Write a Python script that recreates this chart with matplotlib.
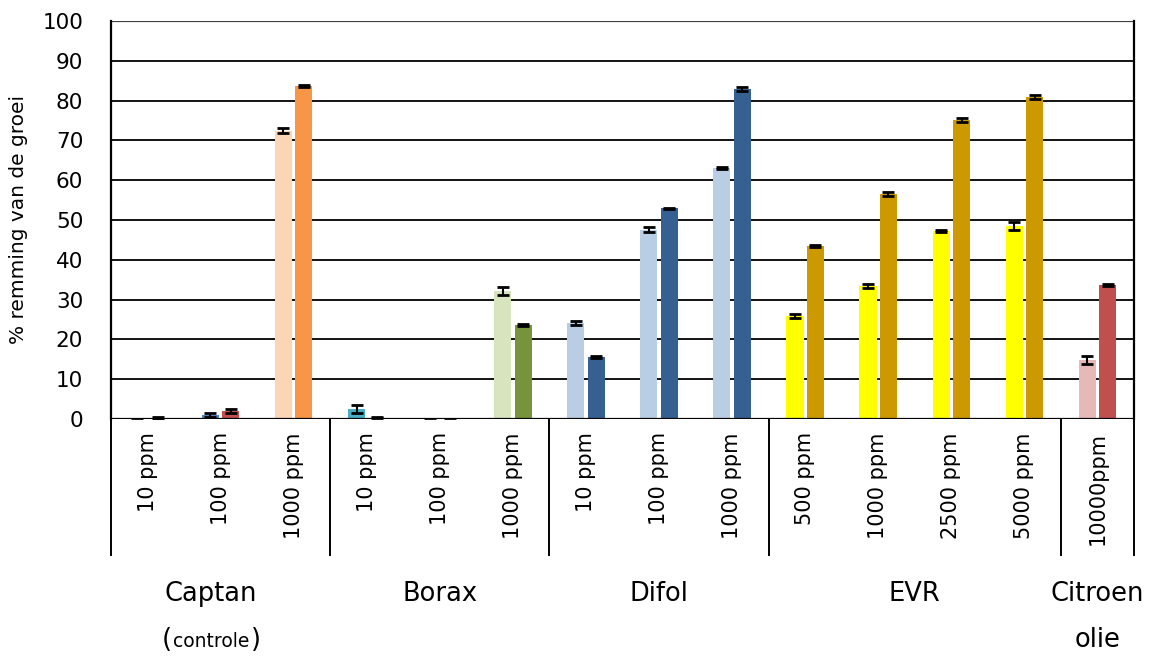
import matplotlib
matplotlib.use("Agg")
import matplotlib.pyplot as plt
from matplotlib.offsetbox import TextArea, HPacker, AnnotationBbox
import numpy as np

# Treatments (concentration labels) grouped by product
groups = ["Captan", "Borax", "Difol", "EVR", "Citroen\nolie"]
group_sizes = [3, 3, 3, 4, 1]
doses = ["10 ppm", "100 ppm", "1000 ppm",
         "10 ppm", "100 ppm", "1000 ppm",
         "10 ppm", "100 ppm", "1000 ppm",
         "500 ppm", "1000 ppm", "2500 ppm", "5000 ppm",
         "10000ppm"]

# Growth inhibition (%) for the two series per treatment
inhib_a = [-0.3, 1.0, 72.4, 2.5, -0.3, 32.2, 24.2, 47.6, 63.0, 25.9, 33.4, 47.2, 48.5, 14.8]
inhib_b = [0.3, 2.0, 83.6, 0.3, -0.3, 23.6, 15.6, 52.9, 82.9, 43.5, 56.5, 75.1, 81.0, 33.6]
err_a = [0.1, 0.5, 0.6, 0.9, 0.1, 1.0, 0.5, 0.6, 0.2, 0.6, 0.6, 0.3, 1.0, 1.0]
err_b = [0.2, 0.4, 0.2, 0.1, 0.1, 0.3, 0.2, 0.2, 0.5, 0.2, 0.5, 0.5, 0.5, 0.3]

colors_a = ["#4F81BD", "#4F81BD", "#FCD5B5", "#4BACC6", "#4F81BD", "#D7E4BD",
            "#B9CDE5", "#B9CDE5", "#B9CDE5", "#FFFF00", "#FFFF00", "#FFFF00", "#FFFF00",
            "#E6B9B8"]
colors_b = ["#C0504D", "#C0504D", "#F79646", "#C0504D", "#C0504D", "#77933C",
            "#376092", "#376092", "#376092", "#CC9900", "#CC9900", "#CC9900", "#CC9900",
            "#C0504D"]

W, H = 1152, 656
fig = plt.figure(figsize=(W / 100, H / 100), dpi=100)
x0, x1, y0, y1 = 111, 1134, 419, 21
ax = fig.add_axes([x0 / W, 1 - y0 / H, (x1 - x0) / W, (y0 - y1) / H])

n = len(doses)
pos = np.arange(n) + 0.5
bw = 0.235
ax.bar(pos - 0.14, inhib_a, width=bw, color=colors_a, zorder=3)
ax.bar(pos + 0.14, inhib_b, width=bw, color=colors_b, zorder=3)
ax.errorbar(pos - 0.14, inhib_a, yerr=err_a, fmt="none", ecolor="black",
            elinewidth=1.5, capsize=4.5, capthick=2, zorder=4)
ax.errorbar(pos + 0.14, inhib_b, yerr=err_b, fmt="none", ecolor="black",
            elinewidth=1.5, capsize=4.5, capthick=2, zorder=4)

ax.set_xlim(0, n)
ax.set_ylim(0, 100)
ax.set_yticks(np.arange(0, 101, 10))
ax.tick_params(axis="y", labelsize=15.5, length=0, pad=20)
ax.set_xticks([])
for v in range(10, 100, 10):
    ax.axhline(v, color="black", lw=1.3, zorder=1)
ax.axhline(100, color="#404040", lw=1.6, zorder=1)
ax.axhline(0, color="black", lw=1.6, zorder=5)
for s in ["top", "bottom"]:
    ax.spines[s].set_visible(False)
for s in ["left", "right"]:
    ax.spines[s].set_linewidth(1.6)
ax.set_ylabel("% remming van de groei", fontsize=14.5)
ax.yaxis.set_label_coords(-0.081, 0.5)

# Multi-level category axis: dose labels, separators and product names
trans = ax.get_xaxis_transform()
for p, d in zip(pos, doses):
    ax.text(p, -0.033, d, rotation=90, ha="center", va="top", fontsize=15,
            transform=trans)
bottom = -(555 - 419) / (y0 - y1)
edges = np.concatenate([[0], np.cumsum(group_sizes)])
for e in edges:
    ax.plot([e, e], [0, bottom], color="black", lw=1.4, transform=trans,
            clip_on=False)

label_y = 1 - 594 / H
for g, a, b in zip(groups, edges[:-1], edges[1:]):
    xc = (a + b) / 2
    if g == "Captan":
        xc -= 0.13
    first = g.split("\n")[0]
    fig.text((x0 + xc * (x1 - x0) / n) / W, label_y, first, ha="center",
             va="center", fontsize=18.5)
    if "\n" in g:
        fig.text((x0 + xc * (x1 - x0) / n) / W, 1 - 640 / H, g.split("\n")[1],
                 ha="center", va="center", fontsize=18.5)

# "(controle)" with a smaller inner word
cap_xc = (x0 + (1.5 - 0.13) * (x1 - x0) / n) / W
pack = HPacker(children=[TextArea("(", textprops=dict(fontsize=18.5)),
                         TextArea("controle", textprops=dict(fontsize=13.5)),
                         TextArea(")", textprops=dict(fontsize=18.5))],
               align="baseline", pad=0, sep=1)
ab = AnnotationBbox(pack, (cap_xc, 1 - 640 / H), xycoords="figure fraction",
                    frameon=False, box_alignment=(0.5, 0.5))
fig.add_artist(ab)

fig.savefig("out.png", dpi=100)
